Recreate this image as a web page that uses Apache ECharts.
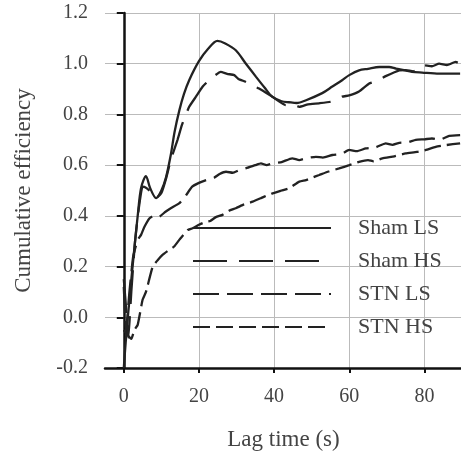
<!DOCTYPE html>
<html>
<head>
<meta charset="utf-8">
<script src="https://cdn.jsdelivr.net/npm/echarts@6/dist/echarts.min.js"></script>
<style>html,body{margin:0;padding:0;background:#fff;}#c{width:461px;height:452px;}</style>
</head>
<body>
<div id="c"></div>
<script>
const seriesNames = ['Sham LS', 'Sham HS', 'STN LS', 'STN HS'];
const xTicks = [0, 20, 40, 60, 80];
const yTicks = [-0.2, 0.0, 0.2, 0.4, 0.6, 0.8, 1.0, 1.2];

const shamLS = [[0,-0.2],[0.5,-0.1],[1.5,0.07],[2.8,0.27],[3.7,0.4],[4.6,0.51],[5.9,0.557],[7,0.51],[8.6,0.47],[10,0.5],[11.2,0.55],[12.5,0.64],[13.5,0.73],[14.8,0.817],[16,0.88],[17.4,0.935],[20,1.01],[22.5,1.06],[24.9,1.09],[27,1.08],[29.8,1.053],[32.5,1.0],[35.2,0.948],[37.5,0.905],[39.5,0.87],[42,0.852],[44,0.848],[46,0.845],[48.5,0.856],[52.8,0.884],[55.5,0.91],[58.1,0.935],[60,0.955],[62.6,0.974],[65,0.98],[68,0.987],[70.6,0.987],[72.4,0.981],[76.7,0.968],[79.4,0.965],[83.9,0.961],[89.5,0.961]];

const shamHS = [[0,0.15],[0.7,0.02],[1.2,-0.08],[2,0.1],[3,0.3],[4,0.43],[5,0.515],[6,0.51],[7.2,0.495],[8.6,0.47],[10,0.49],[11.3,0.55],[12.5,0.62],[14.3,0.70],[15.5,0.76],[17.4,0.83],[19.2,0.87],[21,0.91],[22.7,0.935],[25.8,0.968],[27.5,0.96],[29.4,0.955],[30.5,0.94],[32.5,0.928],[34,0.915],[36,0.902],[39.5,0.87],[43.1,0.837],[45,0.84],[46.7,0.83],[49,0.84],[52,0.844],[55,0.85],[58.1,0.87],[60,0.875],[62.6,0.89],[65.3,0.922],[67,0.93],[69.7,0.951],[73.3,0.974],[75,0.975],[77,0.97],[79.5,0.994],[82,0.99],[83.9,1.0],[86,0.995],[88.3,1.007],[89.5,1.0]];

const stnLS = [[0,0.12],[0.6,-0.05],[1.5,0.1],[2.5,0.24],[3.7,0.305],[4.6,0.325],[5.5,0.357],[6.8,0.39],[8,0.4],[9.4,0.397],[11,0.415],[12.5,0.43],[14.8,0.45],[16.5,0.48],[18.2,0.515],[20,0.53],[21.9,0.541],[24,0.55],[25.5,0.565],[27.2,0.574],[29,0.57],[30.7,0.58],[33,0.59],[35,0.6],[36.5,0.607],[38,0.6],[39.5,0.607],[42,0.612],[44.8,0.627],[46.7,0.62],[48.5,0.627],[51.1,0.633],[53,0.63],[55.5,0.64],[58,0.645],[60,0.66],[62,0.655],[64.4,0.666],[67,0.67],[69.7,0.686],[71.5,0.68],[73.3,0.688],[75.5,0.69],[77.7,0.70],[80,0.702],[82,0.705],[84,0.70],[86.6,0.715],[89.5,0.718]];

const stnHS = [[0,-0.05],[1,-0.07],[2,-0.085],[2.8,-0.05],[3.7,-0.03],[5,0.069],[5.9,0.1],[7.7,0.2],[9,0.225],[10.3,0.246],[12,0.265],[13.4,0.279],[15,0.31],[17,0.344],[18.3,0.351],[20,0.365],[21.9,0.377],[23,0.38],[24.5,0.395],[26.3,0.404],[28,0.42],[29.8,0.43],[32,0.445],[34.3,0.456],[36.5,0.47],[38,0.48],[39.6,0.489],[42,0.5],[44,0.509],[46.7,0.535],[48.5,0.541],[50,0.55],[52,0.561],[54.5,0.575],[57.3,0.587],[60,0.6],[62.6,0.613],[65,0.62],[66.5,0.615],[68.8,0.627],[72,0.635],[75,0.646],[78,0.652],[80.4,0.66],[83,0.672],[85.7,0.679],[89.5,0.686]];

const seriesData = [shamLS, shamHS, stnLS, stnHS];
const dashes = ['solid', [34, 12], [26, 8], [17, 6]];
const font = 'Liberation Serif';

const chart = echarts.init(document.getElementById('c'), null, {renderer: 'canvas'});
chart.setOption({
  animation: false,
  backgroundColor: '#fff',
  grid: {left: 105, right: -1, top: 13, bottom: 84, containLabel: false, outerBoundsMode: 'none'},
  legend: {
    orient: 'vertical',
    left: 187,
    top: 212,
    itemWidth: 138,
    itemHeight: 14,
    itemGap: 11,
    data: seriesNames,
    itemStyle: {opacity: 0, borderWidth: 0},
    textStyle: {fontFamily: font, fontSize: 22, color: '#444', padding: [0, 0, 0, 22]}
  },
  xAxis: {
    type: 'value',
    min: -5,
    max: 90,
    name: 'Lag time (s)',
    nameLocation: 'middle',
    nameGap: 60,
    nameTextStyle: {fontFamily: font, fontSize: 23, color: '#444'},
    axisLine: {onZero: false, lineStyle: {color: '#111', width: 2.5}},
    axisTick: {show: true, inside: false, length: 5, customValues: xTicks, lineStyle: {color: '#111', width: 2}},
    axisLabel: {customValues: xTicks, margin: 19, fontFamily: font, fontSize: 20, color: '#444'},
    splitLine: {show: true, lineStyle: {color: '#bbb', width: 1}}
  },
  yAxis: {
    type: 'value',
    min: -0.2,
    max: 1.2,
    interval: 0.2,
    name: 'Cumulative efficiency',
    nameLocation: 'middle',
    nameGap: 70,
    nameTextStyle: {fontFamily: font, fontSize: 23, color: '#444'},
    axisLine: {show: true, lineStyle: {color: '#111', width: 2.5}},
    axisTick: {show: true, inside: false, length: 7, lineStyle: {color: '#111', width: 2}},
    axisLabel: {margin: 17, fontFamily: font, fontSize: 20, color: '#444', formatter: v => v.toFixed(1)},
    splitLine: {show: true, lineStyle: {color: '#bbb', width: 1}}
  },
  series: seriesNames.map((n, i) => ({
    name: n,
    type: 'line',
    data: seriesData[i],
    symbol: 'none',
    smooth: i === 0 ? 0.3 : 0.15,
    lineStyle: {color: '#222', width: 2.3, type: dashes[i]},
    itemStyle: {color: '#222'}
  }))
});
</script>
</body>
</html>
